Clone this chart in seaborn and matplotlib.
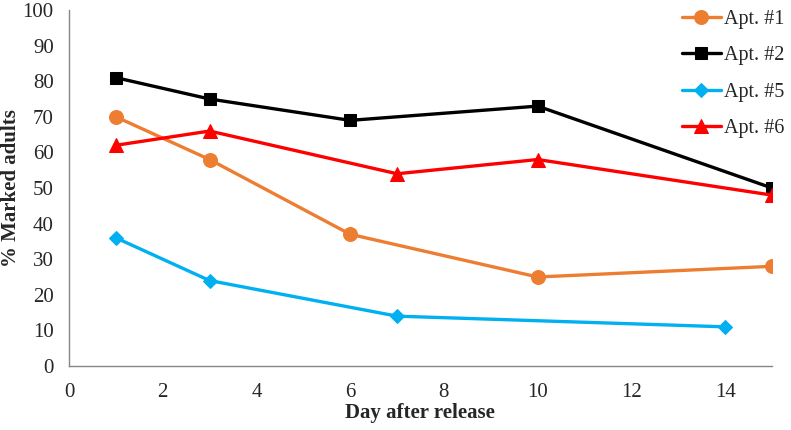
import matplotlib
matplotlib.use("Agg")
import matplotlib.pyplot as plt
import seaborn as sns
import pandas as pd

sns.set_style("white")
plt.rcParams['font.family'] = ['Liberation Serif', 'DejaVu Serif']

series_names = ["Apt. #1", "Apt. #2", "Apt. #5", "Apt. #6"]
apt1_x = [1, 3, 6, 10, 15]
apt1_y = [70, 58, 37, 25, 28]
apt2_x = [1, 3, 6, 10, 15]
apt2_y = [81, 75, 69, 73, 50]
apt5_x = [1, 3, 7, 14]
apt5_y = [36, 24, 14, 11]
apt6_x = [1, 3, 7, 10, 15]
apt6_y = [62, 66, 54, 58, 48]

colors = ["#ED7D31", "#000000", "#00B0F0", "#FF0000"]
markers = ["o", "s", "D", "^"]
msizes = [10, 9, 7, 10]

xs = [apt1_x, apt2_x, apt5_x, apt6_x]
ys = [apt1_y, apt2_y, apt5_y, apt6_y]

fig = plt.figure(figsize=(7.91, 4.30), dpi=100)
ax = fig.add_axes([69/791, 1 - 366/430, (772-69)/791, (366-10)/430])

for name, x, y, c, m, ms in zip(series_names, xs, ys, colors, markers, msizes):
    df = pd.DataFrame({"x": x, "y": y})
    sns.lineplot(data=df, x="x", y="y", ax=ax, color=c, marker=m, markersize=ms,
                 markeredgecolor=c, linewidth=2.4, label=name)

ax.set_xlim(0, 15)
ax.set_ylim(0, 100)
ax.set_xticks(range(0, 15, 2))
ax.set_yticks(range(0, 101, 10))
ax.tick_params(axis='both', direction='in', length=4, width=1, color="#868686",
               labelsize=15)
ax.tick_params(axis='y', pad=11)
ax.tick_params(axis='x', pad=12)
for s in ["top", "right"]:
    ax.spines[s].set_visible(False)
for s in ["left", "bottom"]:
    ax.spines[s].set_color("#868686")
    ax.spines[s].set_linewidth(1)

ax.set_xlabel("Day after release", fontsize=15, fontweight="bold")
ax.set_ylabel("% Marked adults", fontsize=15, fontweight="bold")
ax.xaxis.set_label_coords(420/791, 1 - 403/430, transform=fig.transFigure)
ax.yaxis.set_label_coords(21/791, 1 - 188/430, transform=fig.transFigure)

leg = ax.legend(loc="upper right", bbox_to_anchor=(792/791, 1 - 2/430),
                bbox_transform=fig.transFigure, frameon=False, fontsize=14.5,
                handlelength=1.9, handletextpad=0.15, labelspacing=0.85,
                borderaxespad=0)

fig.savefig("out.png", dpi=100)
